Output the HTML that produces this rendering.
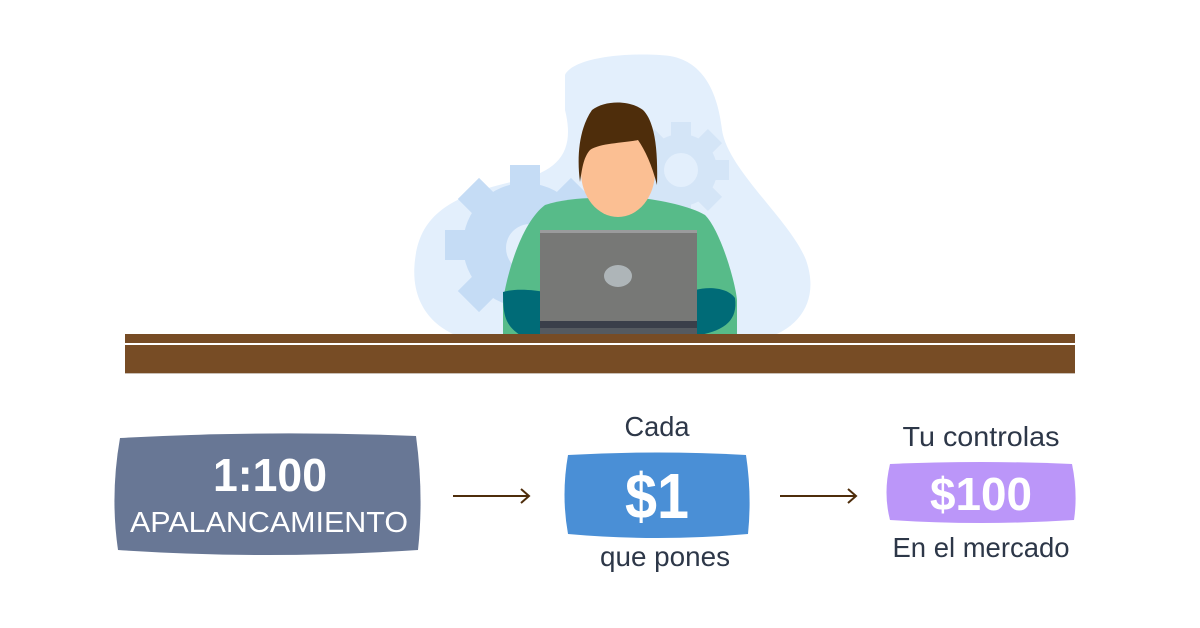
<!DOCTYPE html>
<html><head><meta charset="utf-8"><style>
html,body{margin:0;padding:0;background:#fff}
svg{display:block}
text{font-family:"Liberation Sans",sans-serif}
</style></head><body>
<svg width="1200" height="628" viewBox="0 0 1200 628" xmlns="http://www.w3.org/2000/svg">
<rect width="1200" height="628" fill="#fff"/>
<path d="M565,75 C575,55 640,52 670,56 C705,62 718,95 722,130 C728,170 790,220 806,260 C820,300 800,330 760,340 L470,340 C430,330 410,300 415,260 C420,215 450,195 520,180 C560,170 575,150 565,110 Z" fill="#e3effc"/>
<g fill="#c5dcf5">
<circle cx="525" cy="245" r="62"/>
<rect x="510" y="165" width="30" height="160"/>
<rect x="445" y="230" width="160" height="30"/>
<rect x="510" y="165" width="30" height="160" transform="rotate(45 525 245)"/>
<rect x="510" y="165" width="30" height="160" transform="rotate(-45 525 245)"/>
</g>
<circle cx="530" cy="248" r="24" fill="#e3effc"/>
<g fill="#d4e5f7">
<circle cx="681" cy="170" r="36"/>
<rect x="671" y="122" width="20" height="96"/>
<rect x="633" y="160" width="96" height="20"/>
<rect x="671" y="122" width="20" height="96" transform="rotate(45 681 170)"/>
<rect x="671" y="122" width="20" height="96" transform="rotate(-45 681 170)"/>
</g>
<circle cx="681" cy="170" r="17" fill="#e3effc"/>
<path d="M545,205 C560,200 580,198 595,198 L640,198 C660,200 690,206 705,215 C720,230 735,280 737,300 L737,335 L503,335 L503,300 C510,260 525,220 545,205 Z" fill="#57bb89"/>
<path d="M503,292 C515,288 535,290 545,292 L545,335 L520,335 C505,325 503,315 503,292 Z" fill="#006b77"/>
<path d="M695,290 C710,286 728,288 735,298 C738,320 725,330 700,335 L695,335 Z" fill="#006b77"/>
<ellipse cx="618" cy="172" rx="37" ry="45" fill="#fbbf93"/>
<path d="M580,182 C577,160 578,130 592,110 C605,100 630,100 643,110 C655,122 658,150 657,185 C652,165 645,150 638,140 C625,143 600,143 590,150 C583,158 582,170 580,182 Z" fill="#4e2d0b"/>
<rect x="540" y="230" width="157" height="104" fill="#777876"/>
<rect x="540" y="230" width="157" height="3" fill="#9a9b9c"/>
<rect x="540" y="321" width="157" height="7" fill="#3a3f4a"/>
<rect x="540" y="328" width="157" height="6" fill="#555a60"/>
<ellipse cx="618" cy="276" rx="14" ry="11" fill="#aeb5b8"/>
<rect x="125" y="334" width="950" height="39" fill="#774c25"/>
<rect x="125" y="343" width="950" height="2" fill="#fff"/>
<rect x="125" y="373" width="950" height="1" fill="#c9bfb5"/>
<path d="M120,438 Q268,430 416,436 Q424,495 418,550 Q268,560 118,550 Q110,495 120,438 Z" fill="#687795"/>
<text x="270" y="491" font-size="46" font-weight="bold" fill="#fff" text-anchor="middle" textLength="114" lengthAdjust="spacingAndGlyphs">1:100</text>
<text x="269" y="532" font-size="29" fill="#fff" text-anchor="middle" textLength="278" lengthAdjust="spacingAndGlyphs">APALANCAMIENTO</text>
<path d="M568,455 Q657,450 746,455 Q752,495 748,534 Q657,542 568,534 Q561,495 568,455 Z" fill="#4a8fd6"/>
<text x="657" y="518" font-size="64" font-weight="bold" fill="#fff" text-anchor="middle" textLength="64" lengthAdjust="spacingAndGlyphs">$1</text>
<path d="M890,464 Q981,460 1072,464 Q1078,493 1074,520 Q981,526 890,520 Q883,493 890,464 Z" fill="#bb96f9"/>
<text x="981" y="510" font-size="46" font-weight="bold" fill="#fff" text-anchor="middle" textLength="102" lengthAdjust="spacingAndGlyphs">$100</text>
<g stroke="#4e2d0b" stroke-width="2" fill="none">
<line x1="453" y1="496" x2="528" y2="496"/><path d="M521,489 L529,496 L521,503"/>
<line x1="780" y1="496" x2="855" y2="496"/><path d="M848,489 L856,496 L848,503"/>
</g>
<g fill="#2d3748" font-size="28" text-anchor="middle">
<text x="657" y="436" textLength="65" lengthAdjust="spacingAndGlyphs">Cada</text>
<text x="665" y="566" textLength="130" lengthAdjust="spacingAndGlyphs">que pones</text>
<text x="981" y="446" textLength="157" lengthAdjust="spacingAndGlyphs">Tu controlas</text>
<text x="981" y="557" textLength="177" lengthAdjust="spacingAndGlyphs">En el mercado</text>
</g>
</svg>
</body></html>
